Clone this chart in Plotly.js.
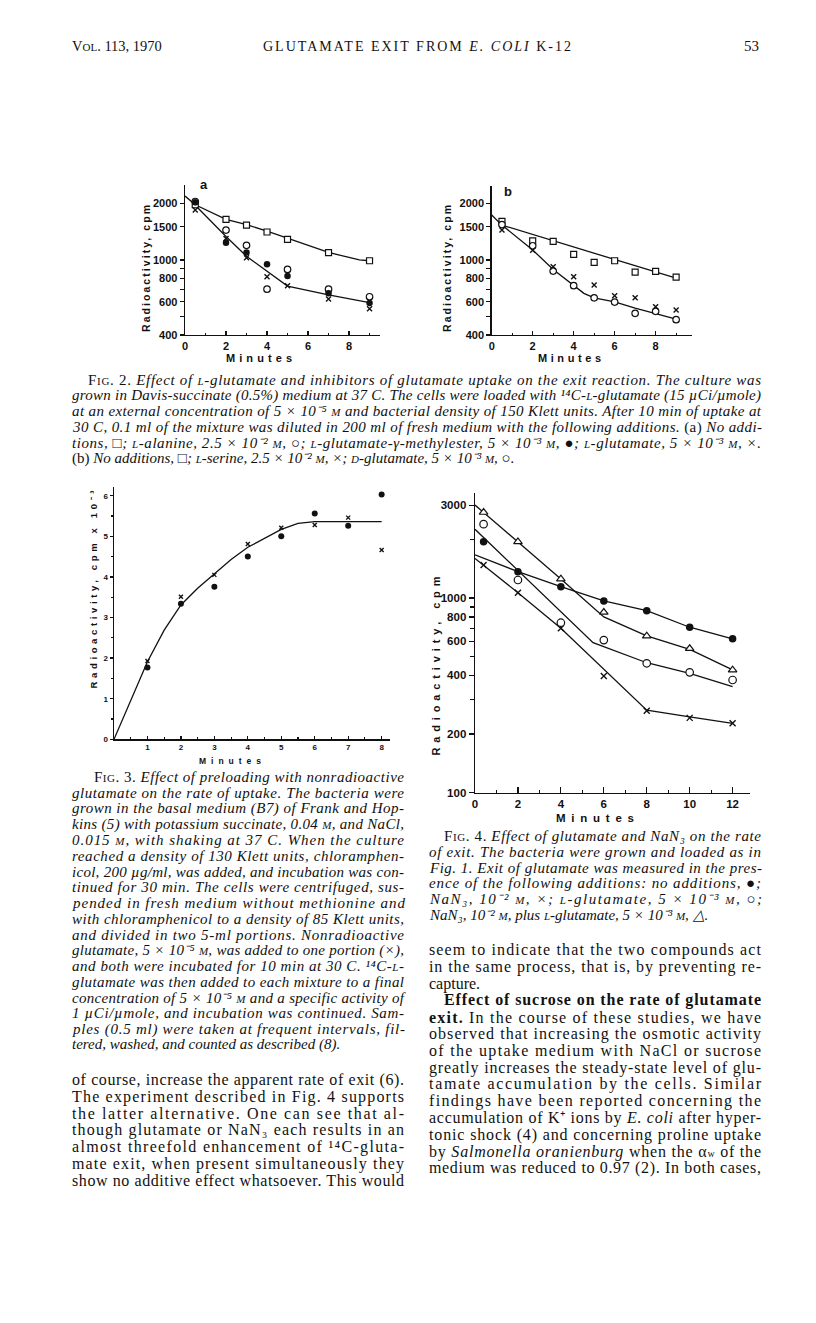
<!DOCTYPE html>
<html>
<head>
<meta charset="utf-8">
<script src="https://cdn.plot.ly/plotly-3.0.1.min.js"></script>
<style>
  body { margin: 0; background: #fff; }
  #page { width: 816px; height: 1323px; }
</style>
</head>
<body>
<div id="page"></div>
<script>
// ---- Fig. 2a : exit with L-glutamate / uptake inhibitors ----
var fig2aMinutes = [0.5, 2, 3, 4, 5, 7, 9];
var fig2aNoAdditions = [1960, 1640, 1530, 1406, 1285, 1092, 990];
var fig2aAlanine = [2040, 1440, 1195, 700, 890, 700, 638];
var fig2aMethylester = [2020, 1233, 1096, 947, 822, 665, 591];
var fig2aGlutamate = [1840, 1300, 1027, 815, 730, 620, 551];
var fig2aUpperCurveX = [0, 0.5, 2, 3, 4, 5, 7, 8, 8.5, 9];
var fig2aUpperCurveY = [2180, 1960, 1640, 1540, 1420, 1300, 1095, 1030, 1000, 990];
var fig2aLowerCurveX = [0.5, 2, 3, 4, 5, 7, 9];
var fig2aLowerCurveY = [1950, 1330, 1045, 870, 727, 652, 593];

// ---- Fig. 2b ----
var fig2bMinutes = [0.5, 2, 3, 4, 5, 6, 7, 8, 9];
var fig2bNoAdditions = [1600, 1263, 1254, 1070, 970, 990, 862, 869, 811];
var fig2bSerine = [1440, 1127, 920, 815, 736, 646, 630, 565, 542];
var fig2bDGlutamate = [1540, 1189, 873, 730, 630, 598, 521, 534, 482];
var fig2bUpperCurveX = [0, 0.5, 9];
var fig2bUpperCurveY = [1730, 1530, 800];
var fig2bLowerCurveX = [0.5, 2, 3, 4, 4.5, 5, 6, 7, 8, 9];
var fig2bLowerCurveY = [1530, 1130, 890, 736, 665, 630, 600, 555, 520, 486];

// ---- Fig. 3 : uptake, cpm x 10^-3 ----
var fig3Minutes = [1, 2, 3, 4, 5, 6, 7, 8];
var fig3Control = [1.77, 3.34, 3.76, 4.50, 5.00, 5.56, 5.26, 6.03];
var fig3Preloaded = [1.93, 3.51, 4.05, 4.81, 5.21, 5.28, 5.46, 4.66];
var fig3CurveX = [0, 0.5, 1, 1.5, 2, 2.5, 3, 3.5, 4, 4.5, 5, 5.5, 6, 7, 8];
var fig3CurveY = [0, 0.95, 1.91, 2.69, 3.31, 3.72, 4.07, 4.43, 4.73, 4.95, 5.17, 5.32, 5.36, 5.36, 5.36];

// ---- Fig. 4 : glutamate and NaN3 ----
var fig4Minutes = [0.4, 2, 4, 6, 8, 10, 12];
var fig4NoAdditions = [1950, 1368, 1145, 967, 861, 708, 617];
var fig4Azide = [1480, 1066, 700, 397, 263, 242, 227];
var fig4Glutamate = [2400, 1239, 747, 608, 462, 415, 379];
var fig4Both = [2761, 1950, 1254, 845, 639, 550, 427];
var fig4LineMinutes = [0, 2, 4, 6, 8, 10, 12];
var fig4NoAdditionsLine = [1670, 1368, 1145, 967, 861, 708, 617];
var fig4AzideLine = [1600, 1066, 700, 430, 265, 245, 227];
var fig4BothLine = [3010, 1950, 1254, 800, 640, 545, 427];
var fig4GlutamateLineX = [0, 5.5, 8, 10, 12];
var fig4GlutamateLineY = [2260, 590, 465, 410, 350];

var W = 816, H = 1323;
var INK = '#111';

function lineTrace(x, y, ax) {
  return { x: x, y: y, xaxis: 'x' + ax, yaxis: 'y' + ax, mode: 'lines',
           line: { color: INK, width: 1.3 }, hoverinfo: 'skip', showlegend: false };
}
function markTrace(x, y, ax, kind, size) {
  var m;
  if (kind === 'dot') m = { symbol: 'circle', color: INK, size: size };
  else if (kind === 'cross') m = { symbol: 'x-thin', size: size, line: { color: INK, width: 1.4 } };
  else m = { symbol: kind, color: '#fff', size: size, line: { color: INK, width: 1.2 } };
  return { x: x, y: y, xaxis: 'x' + ax, yaxis: 'y' + ax, mode: 'markers', marker: m,
           cliponaxis: false, hoverinfo: 'skip', showlegend: false };
}

var traces = [
  lineTrace(fig2aUpperCurveX, fig2aUpperCurveY, ''),
  lineTrace(fig2aLowerCurveX, fig2aLowerCurveY, ''),
  markTrace(fig2aMinutes, fig2aNoAdditions, '', 'square', 6),
  markTrace(fig2aMinutes, fig2aAlanine, '', 'circle', 6.5),
  markTrace(fig2aMinutes, fig2aMethylester, '', 'dot', 6.5),
  markTrace(fig2aMinutes, fig2aGlutamate, '', 'cross', 5),

  lineTrace(fig2bUpperCurveX, fig2bUpperCurveY, '2'),
  lineTrace(fig2bLowerCurveX, fig2bLowerCurveY, '2'),
  markTrace(fig2bMinutes, fig2bNoAdditions, '2', 'square', 6),
  markTrace(fig2bMinutes, fig2bDGlutamate, '2', 'circle', 6.5),
  markTrace(fig2bMinutes, fig2bSerine, '2', 'cross', 5),

  lineTrace(fig3CurveX, fig3CurveY, '3'),
  markTrace(fig3Minutes, fig3Control, '3', 'dot', 6),
  markTrace(fig3Minutes, fig3Preloaded, '3', 'cross', 4),

  lineTrace(fig4LineMinutes, fig4NoAdditionsLine, '4'),
  lineTrace(fig4LineMinutes, fig4AzideLine, '4'),
  lineTrace(fig4LineMinutes, fig4BothLine, '4'),
  lineTrace(fig4GlutamateLineX, fig4GlutamateLineY, '4'),
  markTrace(fig4Minutes, fig4NoAdditions, '4', 'dot', 7.5),
  markTrace(fig4Minutes, fig4Azide, '4', 'cross', 6),
  markTrace(fig4Minutes, fig4Glutamate, '4', 'circle', 7.5),
  markTrace(fig4Minutes, fig4Both, '4', 'triangle-up', 7.5)
];

function axis(dom, range, o) {
  var a = {
    domain: dom, range: range, showline: true, linecolor: INK, linewidth: 1.4,
    showgrid: false, zeroline: false, ticks: o.ticks, ticklen: o.ticklen || 4,
    tickwidth: 1.2, tickcolor: INK, tickmode: 'array', tickvals: o.tickvals,
    tickfont: { family: 'Liberation Sans', size: o.fs, weight: 700, color: INK },
    anchor: o.anchor, fixedrange: true
  };
  if (o.ticktext) a.ticktext = o.ticktext;
  if (o.type) a.type = o.type;
  if (o.minor) a.minor = { tickvals: o.minor, ticks: o.ticks, ticklen: o.minorlen || 2.5,
                           tickwidth: 1.1, tickcolor: INK, showgrid: false };
  return a;
}
function xdom(a, b) { return [a / W, b / W]; }
function ydom(top, bottom) { return [1 - bottom / H, 1 - top / H]; }

var fig2Ticks = [400, 500, 600, 700, 800, 900, 1000, 1500, 2000];
var fig2TickText = ['400', '', '600', '', '800', '', '1000', '1500', '2000'];

var layout = {
  width: W, height: H, autosize: false,
  margin: { l: 0, r: 0, t: 0, b: 0 },
  paper_bgcolor: '#fff', plot_bgcolor: 'rgba(0,0,0,0)',
  showlegend: false,
  xaxis: axis(xdom(185, 380), [0, 9.51], { anchor: 'y', ticks: 'inside', fs: 11,
    tickvals: [0, 2, 4, 6, 8], minor: [1, 3, 5, 7, 9] }),
  yaxis: axis(ydom(185, 335), [Math.log10(400), 3.397], { anchor: 'x', type: 'log', ticks: 'outside', fs: 11,
    tickvals: fig2Ticks, ticktext: fig2TickText }),
  xaxis2: axis(xdom(491.7, 691.7), [0, 9.76], { anchor: 'y2', ticks: 'inside', fs: 11,
    tickvals: [0, 2, 4, 6, 8], minor: [1, 3, 5, 7, 9] }),
  yaxis2: axis(ydom(186, 335), [Math.log10(400), 3.392], { anchor: 'x2', type: 'log', ticks: 'outside', fs: 11,
    tickvals: fig2Ticks, ticktext: fig2TickText }),
  xaxis3: axis(xdom(114, 390), [0, 8.25], { anchor: 'y3', ticks: 'inside', fs: 8, ticklen: 3,
    tickvals: [1, 2, 3, 4, 5, 6, 7, 8], minor: [0.5, 1.5, 2.5, 3.5, 4.5, 5.5, 6.5, 7.5], minorlen: 2 }),
  yaxis3: axis(ydom(487.3, 739.3), [0, 6.207], { anchor: 'x3', ticks: 'outside', fs: 8, ticklen: 3,
    tickvals: [0, 1, 2, 3, 4, 5, 6], minor: [0.5, 1.5, 2.5, 3.5, 4.5, 5.5], minorlen: 2 }),
  xaxis4: axis(xdom(475, 750), [0, 12.81], { anchor: 'y4', ticks: 'inside', fs: 11.5, ticklen: 6,
    tickvals: [0, 2, 4, 6, 8, 10, 12], minor: [1, 3, 5, 7, 9, 11], minorlen: 3 }),
  yaxis4: axis(ydom(493, 792.5), [2, 3.5406], { anchor: 'x4', type: 'log', ticks: 'outside', fs: 11.5, ticklen: 5,
    tickvals: [100, 200, 400, 600, 800, 1000, 3000], minor: [300, 500, 700, 900, 2000], minorlen: 4 }),
  annotations: []
};

// ---- text ----
// indices are written with unicode super/subscript digits so every line keeps the
// same height and the lines stay on one baseline grid
var fitLen = [];
function put(text, x, y, o) {
  o = o || {};
  layout.annotations.push({
    xref: 'paper', yref: 'paper', x: x / W, y: 1 - y / H,
    xanchor: o.xa || 'left', yanchor: o.ya || 'middle', align: 'left',
    showarrow: false, text: text, textangle: o.angle || 0, borderpad: 0,
    font: { family: o.family || 'Liberation Serif', size: o.size || 15, color: INK, weight: o.weight || 400 }
  });
  fitLen.push(o.len || 0);
}
function block(lines, x, y0, dy, width, size, indents, loose) {
  lines.forEach(function (ln, i) {
    var ind = indents[i] || 0;
    var fit = loose.indexOf(i) >= 0 ? 0 : width - ind;
    put(ln, x + ind, y0 + i * dy, { size: size, len: fit });
  });
}
function sc(s) { return '<span style="font-size:11px">' + s + '</span>'; }

// header
put('V' + sc('OL') + '. 113, 1970', 71, 46, { size: 14.5 });
put('GLUTAMATE EXIT FROM <i>E. COLI</i> K-12', 262, 46, { size: 14, len: 308 });
put('53', 760, 46, { size: 15, xa: 'right' });

// panel labels and axis titles
var sans = 'Liberation Sans';
put('a', 199, 184, { family: sans, size: 13, weight: 700 });
put('b', 503, 192, { family: sans, size: 13, weight: 700 });
put('Radioactivity, cpm', 146, 333, { family: sans, size: 10.5, weight: 700, angle: -90, xa: 'center', ya: 'bottom', len: 127 });
put('Radioactivity, cpm', 447, 333, { family: sans, size: 10.5, weight: 700, angle: -90, xa: 'center', ya: 'bottom', len: 127 });
put('Minutes', 225, 358, { family: sans, size: 11, weight: 700, len: 66 });
put('Minutes', 537, 358, { family: sans, size: 11, weight: 700, len: 63 });
put('Radioactivity, cpm x 10⁻³', 93, 690, { family: sans, size: 9.5, weight: 700, angle: -90, xa: 'center', ya: 'bottom', len: 198 });
put('Minutes', 198, 761, { family: sans, size: 8.5, weight: 700, len: 62 });
put('Radioactivity, cpm', 435, 757, { family: sans, size: 11, weight: 700, angle: -90, xa: 'center', ya: 'bottom', len: 179 });
put('Minutes', 555, 818, { family: sans, size: 11.5, weight: 700, len: 78 });

var cap2 = [
  'F' + sc('IG') + '. 2. <i>Effect of ' + sc('L') + '-glutamate and inhibitors of glutamate uptake on the exit reaction. The culture was</i>',
  '<i>grown in Davis-succinate (0.5%) medium at 37 C. The cells were loaded with ¹⁴C-' + sc('L') + '-glutamate (15 µCi/µmole)</i>',
  '<i>at an external concentration of 5 × 10⁻⁵ ' + sc('M') + ' and bacterial density of 150 Klett units. After 10 min of uptake at</i>',
  '<i>30 C, 0.1 ml of the mixture was diluted in 200 ml of fresh medium with the following additions.</i> (a) <i>No addi-</i>',
  '<i>tions, □; ' + sc('L') + '-alanine, 2.5 × 10⁻² ' + sc('M') + ', ○; ' + sc('L') + '-glutamate-γ-methylester, 5 × 10⁻³ ' + sc('M') + ', ●; ' + sc('L') + '-glutamate, 5 × 10⁻³ ' + sc('M') + ', ×.</i>',
  '(b) <i>No additions, □; ' + sc('L') + '-serine, 2.5 × 10⁻² ' + sc('M') + ', ×; ' + sc('D') + '-glutamate, 5 × 10⁻³ ' + sc('M') + ', ○.</i>'
];
block(cap2, 71, 380, 15.7, 689, 15, { 0: 16 }, [5]);

var cap3 = [
  'F' + sc('IG') + '. 3. <i>Effect of preloading with nonradioactive</i>',
  '<i>glutamate on the rate of uptake. The bacteria were</i>',
  '<i>grown in the basal medium (B7) of Frank and Hop-</i>',
  '<i>kins (5) with potassium succinate, 0.04 ' + sc('M') + ', and NaCl,</i>',
  '<i>0.015 ' + sc('M') + ', with shaking at 37 C. When the culture</i>',
  '<i>reached a density of 130 Klett units, chloramphen-</i>',
  '<i>icol, 200 µg/ml, was added, and incubation was con-</i>',
  '<i>tinued for 30 min. The cells were centrifuged, sus-</i>',
  '<i>pended in fresh medium without methionine and</i>',
  '<i>with chloramphenicol to a density of 85 Klett units,</i>',
  '<i>and divided in two 5-ml portions. Nonradioactive</i>',
  '<i>glutamate, 5 × 10⁻⁵ ' + sc('M') + ', was added to one portion (×),</i>',
  '<i>and both were incubated for 10 min at 30 C. ¹⁴C-' + sc('L') + '-</i>',
  '<i>glutamate was then added to each mixture to a final</i>',
  '<i>concentration of 5 × 10⁻⁵ ' + sc('M') + ' and a specific activity of</i>',
  '<i>1 µCi/µmole, and incubation was continued. Sam-</i>',
  '<i>ples (0.5 ml) were taken at frequent intervals, fil-</i>',
  '<i>tered, washed, and counted as described (8).</i>'
];
block(cap3, 71, 777, 15.75, 332, 15, { 0: 22 }, [17]);

var cap4 = [
  'F' + sc('IG') + '. 4. <i>Effect of glutamate and NaN₃ on the rate</i>',
  '<i>of exit. The bacteria were grown and loaded as in</i>',
  '<i>Fig. 1. Exit of glutamate was measured in the pres-</i>',
  '<i>ence of the following additions: no additions, ●;</i>',
  '<i>NaN₃, 10⁻² ' + sc('M') + ', ×; ' + sc('L') + '-glutamate, 5 × 10⁻³ ' + sc('M') + ', ○;</i>',
  '<i>NaN₃, 10⁻² ' + sc('M') + ', plus ' + sc('L') + '-glutamate, 5 × 10⁻³ ' + sc('M') + ', △.</i>'
];
block(cap4, 428, 836, 15.8, 332, 15, { 0: 15 }, [5]);

var bodyLeft = [
  'of course, increase the apparent rate of exit (6).',
  'The experiment described in Fig. 4 supports',
  'the latter alternative. One can see that al-',
  'though glutamate or NaN₃ each results in an',
  'almost threefold enhancement of ¹⁴C-gluta-',
  'mate exit, when present simultaneously they',
  'show no additive effect whatsoever. This would'
];
block(bodyLeft, 71, 1080, 16.8, 332, 16, {}, []);

var bodyRight = [
  'seem to indicate that the two compounds act',
  'in the same process, that is, by preventing re-',
  'capture.',
  '<b>Effect of sucrose on the rate of glutamate</b>',
  '<b>exit.</b> In the course of these studies, we have',
  'observed that increasing the osmotic activity',
  'of the uptake medium with NaCl or sucrose',
  'greatly increases the steady-state level of glu-',
  'tamate accumulation by the cells. Similar',
  'findings have been reported concerning the',
  'accumulation of K⁺ ions by <i>E. coli</i> after hyper-',
  'tonic shock (4) and concerning proline uptake',
  'by <i>Salmonella oranienburg</i> when the α<span style="font-size:10px">w</span> of the',
  'medium was reduced to 0.97 (2). In both cases,'
];
block(bodyRight, 428, 950, 16.8, 332, 16, { 3: 15 }, [2]);

Plotly.newPlot('page', traces, layout, { staticPlot: true }).then(function (gd) {
  // stretch each justified line to its column width
  gd.querySelectorAll('g.annotation').forEach(function (g) {
    var len = fitLen[+g.getAttribute('data-index')];
    if (!len) return;
    var t = g.querySelector('text.annotation-text');
    if (t) {
      t.setAttribute('textLength', len);
      t.setAttribute('lengthAdjust', 'spacing');
    }
  });
});
</script>
</body>
</html>
